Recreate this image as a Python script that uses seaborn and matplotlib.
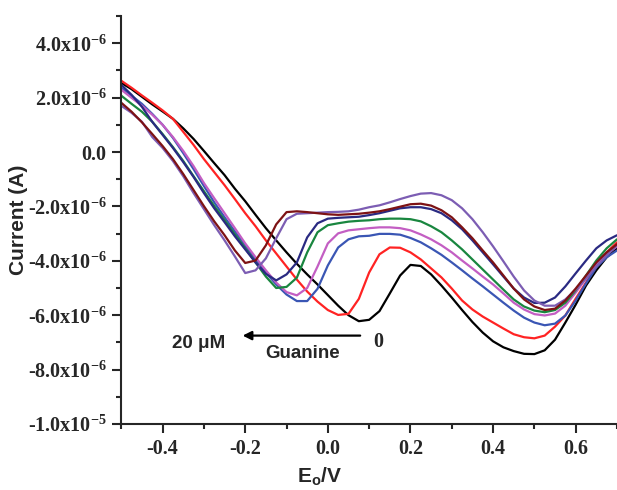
import numpy as np
import pandas as pd
import matplotlib
matplotlib.use("Agg")
import matplotlib.pyplot as plt
from matplotlib.ticker import MultipleLocator, FuncFormatter
import seaborn as sns

# Potential grid (V)
potential = [-0.5 + 0.025 * i for i in range(49)]

# Currents in microampere
i_black = [2.54, 2.31, 2.03, 1.75, 1.49, 1.22, 0.87, 0.48, 0.04, -0.41, -0.85, -1.35, -1.81,
           -2.31, -2.80, -3.25, -3.69, -4.11, -4.50, -4.87, -5.26, -5.65, -6.00, -6.22, -6.17,
           -5.85, -5.20, -4.54, -4.15, -4.19, -4.50, -4.91, -5.35, -5.81, -6.25, -6.64, -6.96,
           -7.18, -7.32, -7.42, -7.43, -7.29, -6.90, -6.27, -5.61, -4.91, -4.35, -3.87, -3.54]
i_red = [2.62, 2.36, 2.08, 1.81, 1.53, 1.22, 0.74, 0.26, -0.26, -0.74, -1.22, -1.73, -2.25,
         -2.73, -3.25, -3.73, -4.21, -4.69, -5.13, -5.50, -5.81, -5.99, -5.95, -5.40, -4.43,
         -3.76, -3.51, -3.52, -3.69, -3.95, -4.28, -4.61, -5.02, -5.46, -5.79, -6.05, -6.27,
         -6.49, -6.70, -6.81, -6.85, -6.75, -6.42, -6.01, -5.39, -4.80, -4.17, -3.69, -3.32]
i_blue = [2.36, 2.07, 1.77, 1.40, 1.00, 0.52, -0.04, -0.63, -1.25, -1.85, -2.40, -2.92, -3.43,
          -3.95, -4.43, -4.87, -5.24, -5.48, -5.48, -5.03, -4.17, -3.51, -3.21, -3.10, -3.08,
          -3.01, -3.01, -3.04, -3.16, -3.32, -3.54, -3.78, -4.06, -4.35, -4.65, -4.94, -5.24,
          -5.54, -5.83, -6.09, -6.27, -6.37, -6.31, -6.01, -5.46, -4.83, -4.24, -3.87, -3.62]
i_magenta = [2.29, 1.99, 1.70, 1.37, 1.00, 0.55, 0.04, -0.52, -1.14, -1.70, -2.25, -2.80, -3.36,
             -3.87, -4.35, -4.80, -5.15, -5.27, -5.00, -4.21, -3.36, -2.99, -2.88, -2.84, -2.80,
             -2.77, -2.77, -2.80, -2.88, -3.03, -3.21, -3.43, -3.69, -3.99, -4.28, -4.58, -4.87,
             -5.20, -5.54, -5.79, -5.96, -6.01, -5.94, -5.65, -5.17, -4.65, -4.13, -3.76, -3.47]
i_green = [2.07, 1.77, 1.48, 1.11, 0.66, 0.18, -0.33, -0.89, -1.44, -1.99, -2.51, -3.03, -3.54,
           -4.06, -4.58, -5.00, -4.96, -4.62, -3.69, -2.95, -2.69, -2.62, -2.56, -2.53, -2.51,
           -2.47, -2.45, -2.45, -2.47, -2.55, -2.73, -2.95, -3.25, -3.58, -3.95, -4.32, -4.69,
           -5.06, -5.42, -5.68, -5.83, -5.89, -5.81, -5.54, -5.09, -4.54, -3.99, -3.54, -3.21]
i_navy = [2.47, 2.10, 1.66, 1.11, 0.63, 0.15, -0.37, -0.92, -1.51, -2.07, -2.58, -3.10, -3.58,
          -4.06, -4.48, -4.72, -4.50, -4.06, -3.14, -2.62, -2.45, -2.42, -2.40, -2.38, -2.32,
          -2.25, -2.16, -2.07, -2.03, -2.03, -2.10, -2.25, -2.51, -2.84, -3.25, -3.69, -4.13,
          -4.58, -5.02, -5.35, -5.55, -5.54, -5.35, -4.94, -4.46, -3.99, -3.54, -3.25, -3.06]
i_purple = [1.70, 1.44, 1.11, 0.55, 0.15, -0.33, -0.89, -1.51, -2.10, -2.69, -3.25, -3.84, -4.45,
            -4.35, -3.91, -3.17, -2.47, -2.27, -2.25, -2.23, -2.21, -2.20, -2.18, -2.12, -2.03,
            -1.96, -1.85, -1.73, -1.62, -1.53, -1.51, -1.59, -1.77, -2.07, -2.47, -2.95, -3.47,
            -4.02, -4.58, -5.09, -5.46, -5.65, -5.65, -5.42, -5.06, -4.65, -4.21, -3.80, -3.43]
i_maroon = [1.81, 1.48, 1.09, 0.66, 0.22, -0.26, -0.81, -1.40, -1.99, -2.55, -3.06, -3.62, -4.08,
            -3.99, -3.43, -2.66, -2.21, -2.18, -2.21, -2.25, -2.29, -2.31, -2.29, -2.27, -2.23,
            -2.18, -2.10, -2.01, -1.92, -1.90, -1.97, -2.14, -2.40, -2.77, -3.17, -3.62, -4.06,
            -4.54, -5.02, -5.42, -5.68, -5.81, -5.76, -5.46, -5.02, -4.54, -4.06, -3.69, -3.39]

series_names = ["s1", "s2", "s3", "s4", "s5", "s6", "s7", "s8"]
series_values = [i_black, i_red, i_blue, i_magenta, i_green, i_navy, i_purple, i_maroon]
series_colors = ["#000000", "#ff2323", "#3a56b4", "#c35ec3", "#19863f", "#2a2a82", "#7c5db3", "#7d1214"]

frames = []
for name, vals in zip(series_names, series_values):
    frames.append(pd.DataFrame({"E": potential, "I": np.array(vals) * 1e-6, "series": name}))
df = pd.concat(frames, ignore_index=True)

sns.set_style("ticks")
plt.rcParams.update({
    "mathtext.fontset": "custom",
    "mathtext.rm": "Liberation Serif:bold",
    "mathtext.bf": "Liberation Serif:bold",
    "mathtext.sf": "Liberation Sans:bold",
    "mathtext.default": "rm",
})

fig = plt.figure(figsize=(6.17, 4.90), dpi=100)
ax = fig.add_axes([0.1966, 0.1347, 0.8034, 0.8326])

sns.lineplot(data=df, x="E", y="I", hue="series", palette=series_colors,
             hue_order=series_names, sort=False, legend=False, linewidth=1.6, ax=ax)

ax.set_xlim(-0.5, 0.7)
ax.set_ylim(-1.0e-5, 5.0e-6)
sns.despine(ax=ax)
for s in ["left", "bottom"]:
    ax.spines[s].set_linewidth(1.5)

ax.xaxis.set_major_locator(MultipleLocator(0.2))
ax.xaxis.set_minor_locator(MultipleLocator(0.1))
ax.yaxis.set_major_locator(MultipleLocator(2e-6))
ax.yaxis.set_minor_locator(MultipleLocator(1e-6))
ax.tick_params(which="major", direction="out", length=6.5, width=1.5, pad=4)
ax.tick_params(which="minor", direction="out", length=3.5, width=1.5)

def yfmt(v, pos):
    if abs(v) < 1e-12:
        return "0.0"
    e = int(np.floor(np.log10(abs(v)) + 1e-9))
    m = v / 10 ** e
    return f"{m:.1f}x10$^{{{e}}}$"

def xfmt(v, pos):
    if abs(v) < 1e-9:
        return "0.0"
    return f"{v:.1f}"

ax.yaxis.set_major_formatter(FuncFormatter(yfmt))
ax.xaxis.set_major_formatter(FuncFormatter(xfmt))
for lab in ax.get_xticklabels() + ax.get_yticklabels():
    lab.set_family("Liberation Serif")
    lab.set_fontweight("bold")
    lab.set_fontsize(14.5)

ax.set_ylabel("Current (A)", family="Liberation Sans", fontweight="bold", fontsize=15)
ax.yaxis.set_label_coords(-0.188, 0.5)
ax.set_xlabel(r"E$_\mathsf{o}$/V", family="Liberation Sans", fontweight="bold", fontsize=15)
ax.xaxis.set_label_coords(0.40, -0.1)

ax.annotate("", xy=(-0.213, -6.75e-6), xytext=(0.085, -6.75e-6),
            arrowprops=dict(arrowstyle="-|>", color="black", lw=1.6, mutation_scale=13))
ax.text(-0.314, -7.05e-6, "20 μM", family="Liberation Sans", fontweight="bold", fontsize=13.5,
        ha="center", va="center")
ax.text(-0.062, -7.42e-6, "Guanine", family="Liberation Sans", fontweight="bold", fontsize=13.5,
        ha="center", va="center")
ax.text(0.121, -6.97e-6, "0", family="Liberation Serif", fontweight="bold", fontsize=14.5,
        ha="center", va="center")

fig.savefig("out.png", dpi=100)
